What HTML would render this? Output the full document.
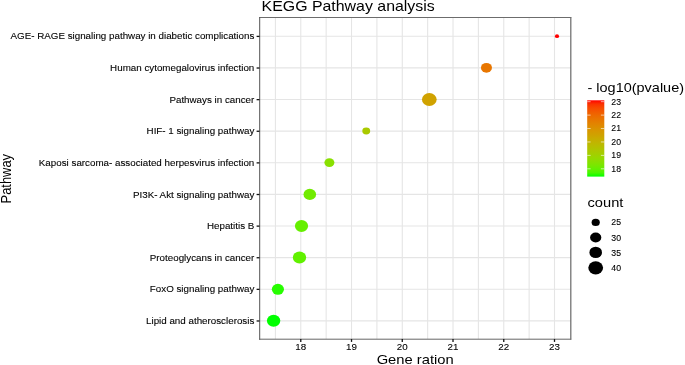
<!DOCTYPE html>
<html><head><meta charset="utf-8">
<style>
html,body{margin:0;padding:0;background:#fff;}
svg{display:block;}
text{filter:grayscale(1);}
text{font-family:"Liberation Sans",sans-serif;fill:#000;}
.b{stroke:#000;stroke-width:0.1px;}
.b2{stroke:#000;stroke-width:0.1px;}
.g{stroke:#e5e5e5;stroke-width:1.1;}
</style></head><body>
<svg width="685" height="365" viewBox="0 0 685 365">
<defs>
<linearGradient id="cb" x1="0" y1="1" x2="0" y2="0">
<stop offset="0.0" stop-color="#00ff00"/>
<stop offset="0.05" stop-color="#49f700"/>
<stop offset="0.1" stop-color="#65ef00"/>
<stop offset="0.15" stop-color="#7ae700"/>
<stop offset="0.2" stop-color="#8adf00"/>
<stop offset="0.25" stop-color="#98d700"/>
<stop offset="0.3" stop-color="#a4ce00"/>
<stop offset="0.35" stop-color="#aec600"/>
<stop offset="0.4" stop-color="#b8bd00"/>
<stop offset="0.45" stop-color="#c1b400"/>
<stop offset="0.5" stop-color="#c9ab00"/>
<stop offset="0.55" stop-color="#d0a100"/>
<stop offset="0.6" stop-color="#d79800"/>
<stop offset="0.65" stop-color="#dd8d00"/>
<stop offset="0.7" stop-color="#e38200"/>
<stop offset="0.75" stop-color="#e87600"/>
<stop offset="0.8" stop-color="#ed6a00"/>
<stop offset="0.85" stop-color="#f25b00"/>
<stop offset="0.9" stop-color="#f74a00"/>
<stop offset="0.95" stop-color="#fb3300"/>
<stop offset="1.0" stop-color="#ff0000"/>
</linearGradient></defs>
<rect width="685" height="365" fill="#fff"/>
<text transform="translate(261.60,11.00) scale(1.128,1)" style="font-size:14.1px;text-anchor:start">KEGG Pathway analysis</text>
<g class="g">
<line x1="275.41" y1="17.3" x2="275.41" y2="339.1"/>
<line x1="300.78" y1="17.3" x2="300.78" y2="339.1"/>
<line x1="326.15" y1="17.3" x2="326.15" y2="339.1"/>
<line x1="351.52" y1="17.3" x2="351.52" y2="339.1"/>
<line x1="376.90" y1="17.3" x2="376.90" y2="339.1"/>
<line x1="402.27" y1="17.3" x2="402.27" y2="339.1"/>
<line x1="427.64" y1="17.3" x2="427.64" y2="339.1"/>
<line x1="453.01" y1="17.3" x2="453.01" y2="339.1"/>
<line x1="478.39" y1="17.3" x2="478.39" y2="339.1"/>
<line x1="503.76" y1="17.3" x2="503.76" y2="339.1"/>
<line x1="529.13" y1="17.3" x2="529.13" y2="339.1"/>
<line x1="554.50" y1="17.3" x2="554.50" y2="339.1"/>
<line x1="259.5" y1="36.25" x2="570.9" y2="36.25"/>
<line x1="259.5" y1="67.87" x2="570.9" y2="67.87"/>
<line x1="259.5" y1="99.49" x2="570.9" y2="99.49"/>
<line x1="259.5" y1="131.11" x2="570.9" y2="131.11"/>
<line x1="259.5" y1="162.73" x2="570.9" y2="162.73"/>
<line x1="259.5" y1="194.35" x2="570.9" y2="194.35"/>
<line x1="259.5" y1="225.97" x2="570.9" y2="225.97"/>
<line x1="259.5" y1="257.59" x2="570.9" y2="257.59"/>
<line x1="259.5" y1="289.21" x2="570.9" y2="289.21"/>
<line x1="259.5" y1="320.83" x2="570.9" y2="320.83"/>
</g>
<line x1="259.15" y1="17.5" x2="571.2" y2="17.5" stroke="#6c6c6c" stroke-width="1"/>
<line x1="259.15" y1="339.2" x2="571.2" y2="339.2" stroke="#666" stroke-width="1.0"/>
<line x1="259.68" y1="17" x2="259.68" y2="339.7" stroke="#5c5c5c" stroke-width="1.05"/>
<line x1="570.8" y1="17" x2="570.8" y2="339.7" stroke="#6e6e6e" stroke-width="1.25"/>
<g stroke="#111" stroke-width="1.3">
<line x1="256.6" y1="36.40" x2="259.5" y2="36.40"/>
<line x1="256.6" y1="68.02" x2="259.5" y2="68.02"/>
<line x1="256.6" y1="99.64" x2="259.5" y2="99.64"/>
<line x1="256.6" y1="131.26" x2="259.5" y2="131.26"/>
<line x1="256.6" y1="162.88" x2="259.5" y2="162.88"/>
<line x1="256.6" y1="194.50" x2="259.5" y2="194.50"/>
<line x1="256.6" y1="226.12" x2="259.5" y2="226.12"/>
<line x1="256.6" y1="257.74" x2="259.5" y2="257.74"/>
<line x1="256.6" y1="289.36" x2="259.5" y2="289.36"/>
<line x1="256.6" y1="320.98" x2="259.5" y2="320.98"/>
<line x1="300.78" y1="339.1" x2="300.78" y2="341.90000000000003"/>
<line x1="351.52" y1="339.1" x2="351.52" y2="341.90000000000003"/>
<line x1="402.27" y1="339.1" x2="402.27" y2="341.90000000000003"/>
<line x1="453.01" y1="339.1" x2="453.01" y2="341.90000000000003"/>
<line x1="503.76" y1="339.1" x2="503.76" y2="341.90000000000003"/>
<line x1="554.50" y1="339.1" x2="554.50" y2="341.90000000000003"/>
</g>
<text transform="translate(254.30,39.15) scale(1.06,1)" style="font-size:9.25px;text-anchor:end" class="b">AGE- RAGE signaling pathway in diabetic complications</text>
<text transform="translate(254.30,71.02) scale(1.06,1)" style="font-size:9.25px;text-anchor:end" class="b">Human cytomegalovirus infection</text>
<text transform="translate(254.30,102.64) scale(1.06,1)" style="font-size:9.25px;text-anchor:end" class="b">Pathways in cancer</text>
<text transform="translate(254.30,134.26) scale(1.06,1)" style="font-size:9.25px;text-anchor:end" class="b">HIF- 1 signaling pathway</text>
<text transform="translate(254.30,165.88) scale(1.06,1)" style="font-size:9.25px;text-anchor:end" class="b">Kaposi sarcoma- associated herpesvirus infection</text>
<text transform="translate(254.30,197.50) scale(1.06,1)" style="font-size:9.25px;text-anchor:end" class="b">PI3K- Akt signaling pathway</text>
<text transform="translate(254.30,229.12) scale(1.06,1)" style="font-size:9.25px;text-anchor:end" class="b">Hepatitis B</text>
<text transform="translate(254.30,260.74) scale(1.06,1)" style="font-size:9.25px;text-anchor:end" class="b">Proteoglycans in cancer</text>
<text transform="translate(254.30,292.36) scale(1.06,1)" style="font-size:9.25px;text-anchor:end" class="b">FoxO signaling pathway</text>
<text transform="translate(254.30,323.98) scale(1.06,1)" style="font-size:9.25px;text-anchor:end" class="b">Lipid and atherosclerosis</text>
<text transform="translate(300.78,349.90) scale(1.06,1)" style="font-size:9.25px;text-anchor:middle" class="b">18</text>
<text transform="translate(351.52,349.90) scale(1.06,1)" style="font-size:9.25px;text-anchor:middle" class="b">19</text>
<text transform="translate(402.27,349.90) scale(1.06,1)" style="font-size:9.25px;text-anchor:middle" class="b">20</text>
<text transform="translate(453.01,349.90) scale(1.06,1)" style="font-size:9.25px;text-anchor:middle" class="b">21</text>
<text transform="translate(503.76,349.90) scale(1.06,1)" style="font-size:9.25px;text-anchor:middle" class="b">22</text>
<text transform="translate(554.50,349.90) scale(1.06,1)" style="font-size:9.25px;text-anchor:middle" class="b">23</text>
<text transform="translate(415.15,363.80) scale(1.126,1)" style="font-size:13.1px;text-anchor:middle">Gene ration</text>
<text transform="translate(11.4,178.7) scale(1.137,1) rotate(-90)" style="font-size:12.9px;text-anchor:middle">Pathway</text>
<ellipse cx="557.0" cy="36.2" rx="2.06" ry="1.89" fill="#ff0000"/>
<ellipse cx="486.45" cy="67.8" rx="5.5" ry="4.9" fill="#e87600"/>
<ellipse cx="429.3" cy="99.5" rx="7.37" ry="6.5" fill="#d0a200"/>
<ellipse cx="366.25" cy="130.95" rx="3.95" ry="3.45" fill="#aaca00"/>
<ellipse cx="329.4" cy="162.6" rx="5.0" ry="4.47" fill="#89e000"/>
<ellipse cx="309.8" cy="194.4" rx="6.3" ry="5.6" fill="#71eb00"/>
<ellipse cx="301.5" cy="226.0" rx="6.6" ry="5.9" fill="#65ef00"/>
<ellipse cx="299.5" cy="257.5" rx="6.67" ry="5.96" fill="#61f100"/>
<ellipse cx="277.9" cy="289.3" rx="6.1" ry="5.45" fill="#27fd00"/>
<ellipse cx="273.6" cy="320.8" rx="6.7" ry="5.95" fill="#00ff00"/>
<text transform="translate(587.50,92.10) scale(1.105,1)" style="font-size:13.1px;text-anchor:start">- log10(pvalue)</text>
<rect x="587.2" y="100.3" width="17.1" height="76.3" fill="url(#cb)"/>
<g stroke="#fff" stroke-width="1" opacity="0.62">
<line x1="587.2" y1="168.80" x2="590.6" y2="168.80"/><line x1="600.9" y1="168.80" x2="604.3" y2="168.80"/>
<line x1="587.2" y1="155.38" x2="590.6" y2="155.38"/><line x1="600.9" y1="155.38" x2="604.3" y2="155.38"/>
<line x1="587.2" y1="141.96" x2="590.6" y2="141.96"/><line x1="600.9" y1="141.96" x2="604.3" y2="141.96"/>
<line x1="587.2" y1="128.54" x2="590.6" y2="128.54"/><line x1="600.9" y1="128.54" x2="604.3" y2="128.54"/>
<line x1="587.2" y1="115.12" x2="590.6" y2="115.12"/><line x1="600.9" y1="115.12" x2="604.3" y2="115.12"/>
<line x1="587.2" y1="101.70" x2="590.6" y2="101.70"/><line x1="600.9" y1="101.70" x2="604.3" y2="101.70"/>
</g>
<text transform="translate(611.30,171.70) scale(1.07,1)" style="font-size:8.2px;text-anchor:start" class="b2">18</text>
<text transform="translate(611.30,158.28) scale(1.07,1)" style="font-size:8.2px;text-anchor:start" class="b2">19</text>
<text transform="translate(611.30,144.86) scale(1.07,1)" style="font-size:8.2px;text-anchor:start" class="b2">20</text>
<text transform="translate(611.30,131.44) scale(1.07,1)" style="font-size:8.2px;text-anchor:start" class="b2">21</text>
<text transform="translate(611.30,118.02) scale(1.07,1)" style="font-size:8.2px;text-anchor:start" class="b2">22</text>
<text transform="translate(611.30,104.60) scale(1.07,1)" style="font-size:8.2px;text-anchor:start" class="b2">23</text>
<text transform="translate(587.50,207.00) scale(1.12,1)" style="font-size:13.1px;text-anchor:start">count</text>
<ellipse cx="595.7" cy="222.4" rx="4.1" ry="3.6"/>
<text transform="translate(611.30,225.30) scale(1.07,1)" style="font-size:8.2px;text-anchor:start" class="b2">25</text>
<ellipse cx="595.7" cy="237.5" rx="5.6" ry="5.0"/>
<text transform="translate(611.30,240.50) scale(1.07,1)" style="font-size:8.2px;text-anchor:start" class="b2">30</text>
<ellipse cx="595.7" cy="252.4" rx="6.3" ry="5.7"/>
<text transform="translate(611.30,255.60) scale(1.07,1)" style="font-size:8.2px;text-anchor:start" class="b2">35</text>
<ellipse cx="595.7" cy="267.8" rx="7.4" ry="6.6"/>
<text transform="translate(611.30,270.90) scale(1.07,1)" style="font-size:8.2px;text-anchor:start" class="b2">40</text>
</svg></body></html>
